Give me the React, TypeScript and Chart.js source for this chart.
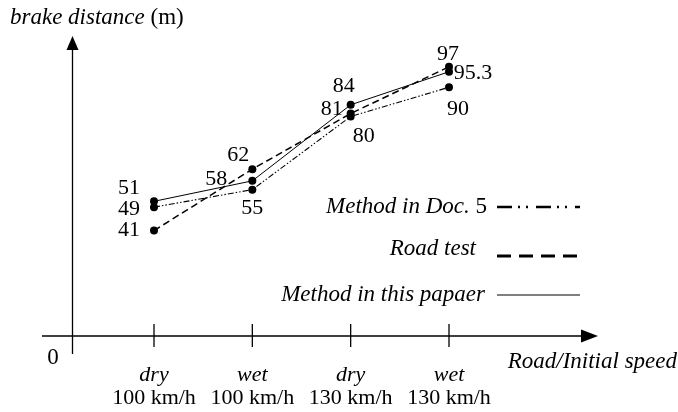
import React, { useEffect, useRef } from 'react';
import { Chart, registerables } from 'chart.js';

Chart.register(...registerables);

// ---- data ----
const roadConditions = ['dry', 'wet', 'dry', 'wet'];
const initialSpeeds = ['100 km/h', '100 km/h', '130 km/h', '130 km/h'];
const categories = roadConditions.map((r, i) => `${r} ${initialSpeeds[i]}`);
const thisPaper = [51, 58, 84, 95.3];
const roadTest = [41, 62, 81, 97];
const docFive = [49, 55, 80, 90];
const yAxisTitle = 'brake distance';
const yAxisUnit = '(m)';
const xAxisTitle = 'Road/Initial speed';
const originLabel = '0';
const legendDocFive = 'Method in Doc.';
const legendDocFiveNumber = '5';
const legendRoadTest = 'Road test';
const legendThisPaper = 'Method in this papaer';

// ---- label placement (style) ----
const thisPaperLabelOffsets = [[-25, -13], [-36, -2], [-7, -19], [24, 1]];
const roadTestLabelOffsets = [[-25, 0], [-14, -14], [-19, -4], [-1, -13]];
const docFiveLabelOffsets = [[-25, 2], [0, 19], [13, 20], [9, 22]];

const FONT = "'Liberation Serif', 'Times New Roman', serif";
const FS = 23;
const FS_CAT = 22;
const FS_VAL = 22;

const W = 678;
const H = 412;

const overlay = {
  id: 'overlay',
  afterDraw(chart: any) {
    const ctx = chart.ctx as CanvasRenderingContext2D;
    const xs = chart.scales.x;
    const ys = chart.scales.y;
    ctx.save();
    ctx.fillStyle = '#000';
    ctx.strokeStyle = '#000';
    ctx.setLineDash([]);

    // axes
    const axisY = 336;
    const axisX = 72.5;
    ctx.lineWidth = 1.3;
    ctx.beginPath();
    ctx.moveTo(42, axisY);
    ctx.lineTo(585, axisY);
    ctx.moveTo(axisX, 354);
    ctx.lineTo(axisX, 48);
    ctx.stroke();
    // arrows
    ctx.beginPath();
    ctx.moveTo(598, axisY);
    ctx.lineTo(581, axisY - 6.5);
    ctx.lineTo(581, axisY + 6.5);
    ctx.closePath();
    ctx.fill();
    ctx.beginPath();
    ctx.moveTo(axisX, 36);
    ctx.lineTo(axisX - 6, 50);
    ctx.lineTo(axisX + 6, 50);
    ctx.closePath();
    ctx.fill();

    // ticks and category labels
    ctx.textAlign = 'center';
    ctx.textBaseline = 'middle';
    categories.forEach((_, i) => {
      const x = xs.getPixelForValue(i);
      ctx.beginPath();
      ctx.moveTo(x, 324);
      ctx.lineTo(x, 347);
      ctx.stroke();
      ctx.font = `italic ${FS_CAT}px ${FONT}`;
      ctx.fillText(roadConditions[i], x, 375);
      ctx.font = `${FS_CAT}px ${FONT}`;
      ctx.fillText(initialSpeeds[i], x, 398);
    });

    // origin
    ctx.font = `${FS}px ${FONT}`;
    ctx.fillText(originLabel, 53, 358);

    // x axis title
    ctx.textAlign = 'right';
    ctx.font = `italic ${FS}px ${FONT}`;
    ctx.fillText(xAxisTitle, 677, 362);

    // y axis title
    ctx.textAlign = 'left';
    ctx.font = `italic ${FS}px ${FONT}`;
    ctx.fillText(yAxisTitle, 10, 18);
    const tw = ctx.measureText(yAxisTitle + ' ').width;
    ctx.font = `${FS}px ${FONT}`;
    ctx.fillText(yAxisUnit, 10 + tw, 18);

    // legend
    const lx0 = 497;
    const lx1 = 580;
    // row 1 Doc 5
    ctx.font = `${FS}px ${FONT}`;
    const numW = ctx.measureText(' ' + legendDocFiveNumber).width;
    ctx.textAlign = 'right';
    ctx.fillText(legendDocFiveNumber, 487, 207);
    ctx.font = `italic ${FS}px ${FONT}`;
    ctx.fillText(legendDocFive, 487 - numW, 207);
    ctx.lineWidth = 2.6;
    ctx.setLineDash([15, 6, 2, 6, 2, 8]);
    ctx.beginPath();
    ctx.moveTo(lx0, 207);
    ctx.lineTo(lx1, 207);
    ctx.stroke();
    // row 2 Road test
    ctx.fillText(legendRoadTest, 476, 249);
    ctx.lineWidth = 2.8;
    ctx.setLineDash([14, 8]);
    ctx.beginPath();
    ctx.moveTo(lx0, 256);
    ctx.lineTo(lx1, 256);
    ctx.stroke();
    // row 3 this paper
    ctx.fillText(legendThisPaper, 485, 295);
    ctx.lineWidth = 1.2;
    ctx.setLineDash([]);
    ctx.beginPath();
    ctx.moveTo(lx0, 295);
    ctx.lineTo(lx1, 295);
    ctx.stroke();

    // data labels
    ctx.textAlign = 'center';
    ctx.font = `${FS_VAL}px ${FONT}`;
    const groups: [number[], number[][]][] = [
      [thisPaper, thisPaperLabelOffsets],
      [roadTest, roadTestLabelOffsets],
      [docFive, docFiveLabelOffsets],
    ];
    groups.forEach(([vals, offs]) => {
      vals.forEach((v, i) => {
        const x = xs.getPixelForValue(i);
        const y = ys.getPixelForValue(v);
        ctx.fillText(String(v), x + offs[i][0], y + offs[i][1]);
      });
    });
    ctx.restore();
  },
};

export default function App() {
  const ref = useRef<HTMLCanvasElement | null>(null);
  useEffect(() => {
    if (!ref.current) return;
    const chart = new Chart(ref.current, {
      type: 'line',
      data: {
        labels: categories,
        datasets: [
          {
            label: legendThisPaper,
            data: thisPaper,
            borderColor: '#000',
            backgroundColor: '#000',
            borderWidth: 1,
            pointRadius: 4,
            pointBackgroundColor: '#000',
            pointBorderWidth: 0,
            tension: 0,
            clip: false as any,
          },
          {
            label: legendRoadTest,
            data: roadTest,
            borderColor: '#000',
            backgroundColor: '#000',
            borderWidth: 1.5,
            borderDash: [7, 4],
            pointRadius: 4,
            pointBackgroundColor: '#000',
            pointBorderWidth: 0,
            tension: 0,
            clip: false as any,
          },
          {
            label: legendDocFive + ' ' + legendDocFiveNumber,
            data: docFive,
            borderColor: '#000',
            backgroundColor: '#000',
            borderWidth: 1.1,
            borderDash: [6, 2, 1.5, 2, 1.5, 2],
            pointRadius: 4,
            pointBackgroundColor: '#000',
            pointBorderWidth: 0,
            tension: 0,
            clip: false as any,
          },
        ],
      },
      options: {
        responsive: false,
        animation: false,
        devicePixelRatio: 1,
        layout: { padding: { left: 154, right: W - 449, top: 58, bottom: H - 350.5 } },
        scales: {
          x: { type: 'category', display: false, offset: false },
          y: { type: 'linear', display: false, min: 0, max: 100 },
        },
        plugins: {
          legend: { display: false },
          title: { display: false },
          tooltip: { enabled: false },
        },
        events: [],
      },
      plugins: [overlay],
    });
    return () => chart.destroy();
  }, []);
  return (
    <div style={{ position: 'fixed', left: 0, top: 0, width: W, height: H, background: '#fff' }}>
      <canvas ref={ref} width={W} height={H} style={{ width: W, height: H, display: 'block' }} />
    </div>
  );
}
